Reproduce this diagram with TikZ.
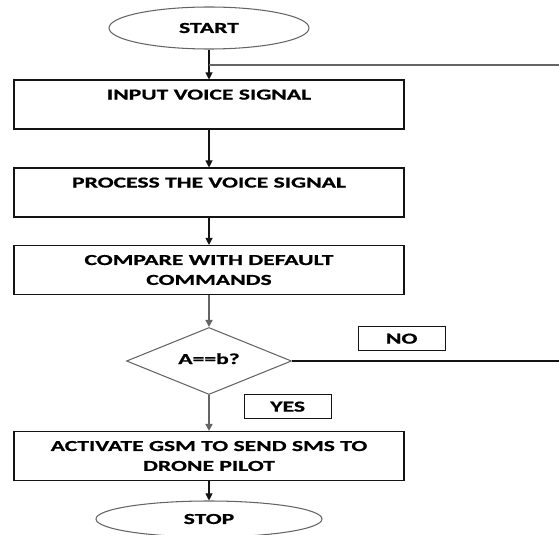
\documentclass[tikz,border=0pt]{standalone}
\usepackage{fontspec}
\setmainfont{Carlito}[FakeStretch=1.55, BoldFeatures={FakeBold=0.8}]
\usetikzlibrary{shapes.geometric, arrows.meta, positioning}
\definecolor{lineblack}{RGB}{20,20,20}
\definecolor{linegray}{RGB}{100,100,100}
\tikzset{
    terminal/.style={ellipse, draw=linegray, line width=0.9pt, minimum width=6cm, minimum height=1.26cm, inner sep=0pt, font=\flowtext},
    stepbox/.style={rectangle, draw=lineblack, line width=0.9pt, minimum width=11.7cm, minimum height=1.47cm, inner sep=0pt, align=center, font=\flowtext},
    decision/.style={diamond, draw=linegray, line width=0.9pt, aspect=2.46, minimum width=4.95cm, minimum height=2.01cm, inner sep=0pt, font=\flowtext},
    answer/.style={rectangle, draw=lineblack, line width=0.9pt, minimum width=2.61cm, minimum height=0.72cm, inner sep=0pt, font=\flowtext},
    arrow/.style={-{Triangle[length=6pt, width=6pt]}, line width=0.9pt, lineblack},
    grayarrow/.style={-{Triangle[length=6pt, width=6pt]}, line width=1.3pt, linegray},
    flowline/.style={line width=0.9pt, linegray},
}
\newcommand{\flowtext}{\fontsize{13}{17}\selectfont\bfseries}

\begin{document}
\begin{tikzpicture}
            \useasboundingbox (0,0) rectangle (16.77,-16.05);
            \node[terminal] (start) at (6.27,-0.84) {START};
            \node[stepbox] (input) at (6.27,-3.135) {INPUT VOICE SIGNAL\\ \mbox{}};
            \node[stepbox] (process) at (6.27,-5.775) {PROCESS THE VOICE SIGNAL\\ \mbox{}};
            \node[stepbox] (compare) at (6.27,-8.1) {COMPARE WITH DEFAULT\\ COMMANDS};
            \node[decision] (check) at (6.27,-10.83) {\raisebox{4pt}{A==b?}};
            \node[answer] (no) at (12.05,-10.16) {NO};
            \node[answer] (yes) at (8.63,-12.2) {YES};
            \node[stepbox] (activate) at (6.27,-13.68) {ACTIVATE GSM TO SEND SMS TO\\ DRONE PILOT};
            \node[terminal, minimum width=6.78cm, minimum height=1.08cm] (stop) at (6.27,-15.57) {STOP};
            \coordinate (loopin) at (16.77,-1.95);
            \coordinate (noout) at (16.77,-10.83);
            \draw[arrow] (start) -- (input);
            \draw[flowline] (loopin) -- (loopin -| start.south);
            \draw[arrow] (input) -- (process);
            \draw[arrow] (process) -- (compare);
            \draw[grayarrow] (compare) -- (check);
            \draw[flowline, lineblack] (check.east) -- (noout);
            \draw[grayarrow] (check) -- (activate);
            \draw[arrow] (activate) -- (stop);
        \end{tikzpicture}
\end{document}
